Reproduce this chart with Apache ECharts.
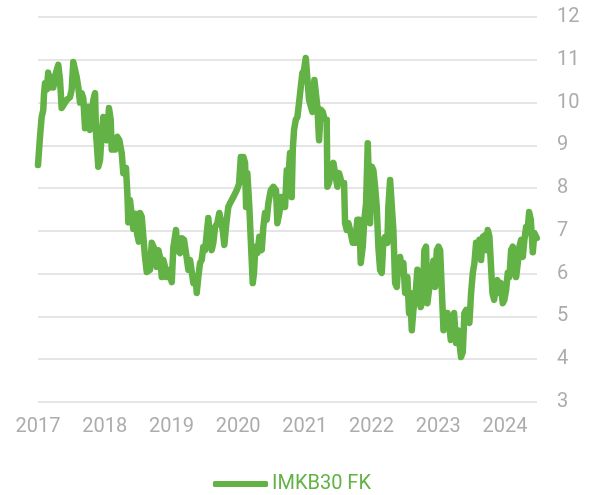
<!DOCTYPE html>
<html>
<head>
<meta charset="utf-8">
<script src="https://cdn.jsdelivr.net/npm/echarts@6/dist/echarts.min.js"></script>
<style>html,body{margin:0;padding:0;background:#fff;}#c{width:601px;height:495px;}</style>
</head>
<body>
<div id="c"></div>
<script>
// x values are fractional years (2017.0 = start of 2017)
const seriesName = 'IMKB30 FK';
const years = [
2017.000,2017.030,2017.055,2017.079,2017.090,2017.105,2017.130,2017.154,2017.180,2017.205,
2017.229,2017.270,2017.304,2017.330,2017.355,2017.379,2017.430,2017.480,2017.505,2017.529,
2017.555,2017.580,2017.604,2017.630,2017.655,2017.679,2017.705,2017.730,2017.754,2017.780,
2017.805,2017.829,2017.855,2017.870,2017.904,2017.930,2017.955,2017.979,2018.005,2018.030,
2018.064,2018.090,2018.105,2018.154,2018.189,2018.219,2018.255,2018.279,2018.319,2018.339,
2018.354,2018.379,2018.405,2018.429,2018.462,2018.484,2018.510,2018.529,2018.555,2018.579,
2018.604,2018.630,2018.679,2018.705,2018.754,2018.780,2018.804,2018.829,2018.855,2018.879,
2018.904,2018.930,2018.954,2019.005,2019.029,2019.069,2019.089,2019.129,2019.155,2019.189,
2019.219,2019.254,2019.279,2019.304,2019.329,2019.364,2019.379,2019.403,2019.429,2019.454,
2019.478,2019.504,2019.529,2019.553,2019.579,2019.604,2019.628,2019.654,2019.688,2019.718,
2019.739,2019.769,2019.793,2019.829,2019.853,2019.879,2019.904,2019.928,2019.979,2020.014,
2020.040,2020.079,2020.104,2020.119,2020.138,2020.168,2020.194,2020.219,2020.238,2020.258,
2020.288,2020.318,2020.354,2020.378,2020.403,2020.429,2020.453,2020.489,2020.528,2020.568,
2020.588,2020.618,2020.643,2020.669,2020.703,2020.729,2020.753,2020.778,2020.803,2020.819,
2020.838,2020.864,2020.888,2020.913,2020.939,2020.963,2020.988,2021.014,2021.038,2021.063,
2021.089,2021.113,2021.143,2021.168,2021.188,2021.213,2021.239,2021.269,2021.298,2021.328,
2021.338,2021.363,2021.403,2021.428,2021.453,2021.488,2021.513,2021.553,2021.588,2021.603,
2021.628,2021.653,2021.688,2021.718,2021.753,2021.787,2021.817,2021.838,2021.868,2021.892,
2021.918,2021.943,2021.963,2021.978,2022.003,2022.027,2022.053,2022.078,2022.102,2022.128,
2022.153,2022.178,2022.203,2022.237,2022.252,2022.278,2022.303,2022.327,2022.353,2022.378,
2022.402,2022.428,2022.453,2022.477,2022.503,2022.537,2022.562,2022.578,2022.603,2022.627,
2022.652,2022.687,2022.712,2022.738,2022.768,2022.792,2022.817,2022.837,2022.867,2022.903,
2022.927,2022.952,2022.978,2023.003,2023.028,2023.053,2023.078,2023.103,2023.137,2023.167,
2023.188,2023.212,2023.237,2023.267,2023.293,2023.317,2023.342,2023.368,2023.392,2023.417,
2023.443,2023.467,2023.492,2023.518,2023.542,2023.567,2023.593,2023.617,2023.642,2023.667,
2023.702,2023.727,2023.742,2023.767,2023.788,2023.812,2023.837,2023.862,2023.886,2023.912,
2023.937,2023.967,2023.991,2024.017,2024.042,2024.066,2024.092,2024.117,2024.141,2024.167,
2024.192,2024.216,2024.242,2024.267,2024.291,2024.317,2024.336,2024.362,2024.387,2024.417,
2024.441,2024.477
];
const values = [
8.54,9.20,9.66,9.83,10.20,10.45,10.30,10.70,10.35,10.60,
10.35,10.70,10.88,10.53,9.87,9.90,10.06,10.13,10.30,10.95,
10.92,10.60,10.36,10.00,10.22,10.10,9.40,9.60,9.90,9.36,
9.36,10.06,10.22,9.29,8.50,8.66,9.29,9.66,9.66,9.12,
9.87,9.60,8.90,8.90,9.20,9.12,8.82,8.35,8.47,7.89,
7.20,7.72,7.75,7.05,7.40,6.95,6.75,7.42,7.33,6.86,
6.39,6.04,6.09,6.72,6.55,6.16,6.55,6.39,5.92,6.32,
6.16,5.92,6.09,5.80,6.62,7.02,6.55,6.48,6.83,6.79,
6.48,6.09,6.32,6.32,5.78,5.92,5.55,5.92,6.25,6.32,
6.62,6.55,6.55,7.30,6.86,6.55,6.72,7.09,7.18,7.42,
7.44,7.02,6.67,7.26,7.56,7.65,7.72,7.79,7.95,8.10,
8.73,8.73,8.59,7.56,8.35,7.56,6.63,5.78,6.02,6.63,
6.48,6.86,6.55,7.09,7.42,7.26,7.65,7.95,8.03,7.95,
7.18,7.42,7.79,7.56,7.56,8.42,8.26,8.82,7.79,8.90,
9.36,9.60,9.66,9.99,10.36,10.69,10.76,11.04,11.00,10.06,
10.06,9.78,10.53,10.57,9.90,9.12,9.83,9.78,9.60,9.60,
8.03,8.12,8.50,8.59,8.35,8.03,8.35,8.12,8.12,7.18,
7.02,7.18,6.95,6.72,6.72,7.26,7.26,6.25,6.63,7.26,
7.65,9.05,9.05,7.18,8.50,8.42,8.03,7.56,6.63,6.09,
6.02,6.79,6.86,6.72,7.56,8.19,8.19,7.02,5.78,5.69,
6.25,6.39,6.09,6.25,5.55,5.92,5.08,5.55,4.68,5.15,
5.39,6.09,5.55,5.22,5.45,6.55,6.63,5.31,5.69,6.02,
6.30,5.69,6.55,6.63,6.55,5.62,4.68,5.08,5.08,4.75,
4.45,4.92,5.08,4.38,4.68,4.38,4.05,4.17,5.08,5.15,
5.15,4.85,5.55,6.02,6.25,6.72,6.55,6.79,6.32,6.86,
6.90,6.55,7.02,6.86,6.25,5.55,5.39,5.69,5.85,5.55,
5.78,5.31,5.39,5.62,6.02,5.92,6.55,6.63,6.25,5.92,
6.25,6.63,6.79,6.39,6.79,7.09,6.95,7.44,7.26,6.50,
6.95,6.83
];
const yearTicks = [2017,2018,2019,2020,2021,2022,2023,2024];

const green = '#62b246';
const data = years.map((y, i) => [y, values[i]]);
const chart = echarts.init(document.getElementById('c'), null, {renderer: 'canvas'});
chart.setOption({
  animation: false,
  textStyle: {fontFamily: 'Roboto'},
  grid: {left: 38, right: 64, top: 17, bottom: 93, containLabel: false},
  legend: {
    left: 208, top: 469,
    icon: 'roundRect', itemWidth: 55, itemHeight: 6,
    textStyle: {color: green, fontSize: 20, fontFamily: 'Roboto', padding: [0,0,0,-1]},
    data: [seriesName]
  },
  xAxis: {
    type: 'value', min: yearTicks[0], max: 2024.48, interval: 1,
    axisLine: {show: false}, axisTick: {show: false}, splitLine: {show: false},
    axisLabel: {
      color: '#acacac', fontSize: 20, margin: 15, showMaxLabel: false,
      formatter: v => yearTicks.includes(v) ? String(v) : ''
    }
  },
  yAxis: {
    type: 'value', position: 'right', min: 3, max: 12, interval: 1,
    axisLine: {show: false}, axisTick: {show: false},
    axisLabel: {color: '#acacac', fontSize: 20, margin: 20},
    splitLine: {lineStyle: {color: '#dcdcdc', width: 1.5}}
  },
  series: [{
    name: seriesName, type: 'line', data: data, showSymbol: false, symbol: 'none',
    itemStyle: {color: green},
    lineStyle: {color: green, width: 6.5, cap: 'round', join: 'round'}
  }]
});
</script>
</body>
</html>
